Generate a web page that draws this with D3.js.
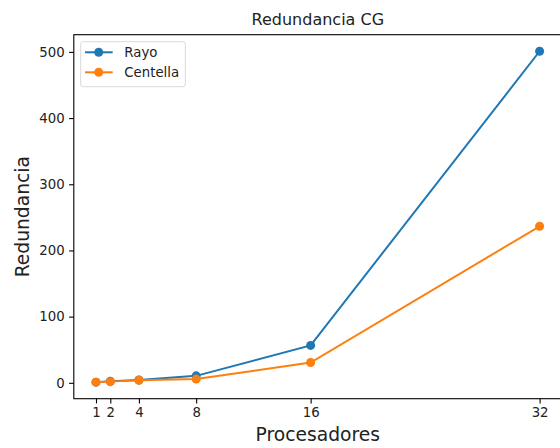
<!DOCTYPE html>
<html>
<head>
<meta charset="utf-8">
<script src="https://cdn.jsdelivr.net/npm/d3@7"></script>
<style>
  html, body { margin: 0; padding: 0; background: #fff; }
  svg { display: block; font-family: "DejaVu Sans", sans-serif; }
</style>
</head>
<body>
<svg id="chart" width="560" height="448"></svg>
<script>
// Processor counts and redundancy per machine
const procesadores = [1, 2, 4, 8, 16, 32];
const rayo = [1, 2.2, 4.3, 10.5, 56.5, 501];
const centella = [1, 1.8, 3.8, 5.6, 30.7, 236.5];
const xTicks = [1, 2, 4, 8, 16, 32];
const yTicks = [0, 100, 200, 300, 400, 500];
const seriesNames = ["Rayo", "Centella"];
const seriesColors = ["#1f77b4", "#ff7f0e"];

const series = [rayo, centella].map((vals, i) => ({
  name: seriesNames[i], color: seriesColors[i],
  points: procesadores.map((p, j) => ({ x: p, y: vals[j] }))
}));

const svg = d3.select("#chart");
const plot = { left: 73.8, right: 561.8, top: 34.7, bottom: 398.7 };

// 5% padding around the data extent on both axes
function padded(ext) { const d = (ext[1] - ext[0]) * 0.05; return [ext[0] - d, ext[1] + d]; }
const xExt = d3.extent(procesadores);
const yExt = d3.extent(rayo.concat(centella));

const x = d3.scaleLinear().domain(padded(xExt)).range([plot.left, plot.right]);
const y = d3.scaleLinear().domain(padded(yExt)).range([plot.bottom, plot.top]);

// Axes
const xAxis = d3.axisBottom(x).tickValues(xTicks).tickSize(4.7).tickPadding(4.5).tickFormat(d3.format("d"));
const yAxis = d3.axisLeft(y).tickValues(yTicks).tickSize(4.7).tickPadding(4.5).tickFormat(d3.format("d"));

const gx = svg.append("g").attr("transform", `translate(0,${plot.bottom})`).call(xAxis);
const gy = svg.append("g").attr("transform", `translate(${plot.left},0)`).call(yAxis);
[gx, gy].forEach(g => {
  g.select(".domain").remove();
  g.selectAll(".tick line").attr("stroke", "#000").attr("stroke-width", 1.1);
  g.selectAll(".tick text").attr("fill", "#222").attr("font-size", 13.3)
    .attr("font-family", "DejaVu Sans, sans-serif");
});

// Frame
svg.append("rect")
  .attr("x", plot.left).attr("y", plot.top)
  .attr("width", plot.right - plot.left).attr("height", plot.bottom - plot.top)
  .attr("fill", "none").attr("stroke", "#000").attr("stroke-width", 1.1);

// Lines and markers
const line = d3.line().x(d => x(d.x)).y(d => y(d.y));
series.forEach(s => {
  svg.append("path").datum(s.points)
    .attr("d", line).attr("fill", "none")
    .attr("stroke", s.color).attr("stroke-width", 2);
  svg.append("g").selectAll("circle").data(s.points).join("circle")
    .attr("cx", d => x(d.x)).attr("cy", d => y(d.y)).attr("r", 4.5)
    .attr("fill", s.color);
});

// Title and axis labels
svg.append("text").attr("x", (plot.left + plot.right) / 2).attr("y", 25)
  .attr("text-anchor", "middle").attr("font-size", 16).attr("fill", "#222")
  .text("Redundancia CG");
svg.append("text").attr("x", (plot.left + plot.right) / 2).attr("y", 441)
  .attr("text-anchor", "middle").attr("font-size", 18.7).attr("fill", "#222")
  .text("Procesadores");
svg.append("text")
  .attr("transform", `translate(28.5,${(plot.top + plot.bottom) / 2}) rotate(-90)`)
  .attr("text-anchor", "middle").attr("font-size", 18.7).attr("fill", "#222")
  .text("Redundancia");

// Legend
const lg = svg.append("g").attr("transform", "translate(80.7,41.7)");
lg.append("rect").attr("width", 104.6).attr("height", 45).attr("rx", 2.5)
  .attr("fill", "#fff").attr("fill-opacity", 0.8)
  .attr("stroke", "#d9d9d9").attr("stroke-width", 1);
series.forEach((s, i) => {
  const cy = 10.6 + i * 20;
  lg.append("line").attr("x1", 4.3).attr("x2", 32).attr("y1", cy).attr("y2", cy)
    .attr("stroke", s.color).attr("stroke-width", 2);
  lg.append("circle").attr("cx", 18).attr("cy", cy).attr("r", 4.5).attr("fill", s.color);
  lg.append("text").attr("x", 43.6).attr("y", cy).attr("dy", "0.35em")
    .attr("font-size", 13.3).attr("fill", "#222").text(s.name);
});
</script>
</body>
</html>
